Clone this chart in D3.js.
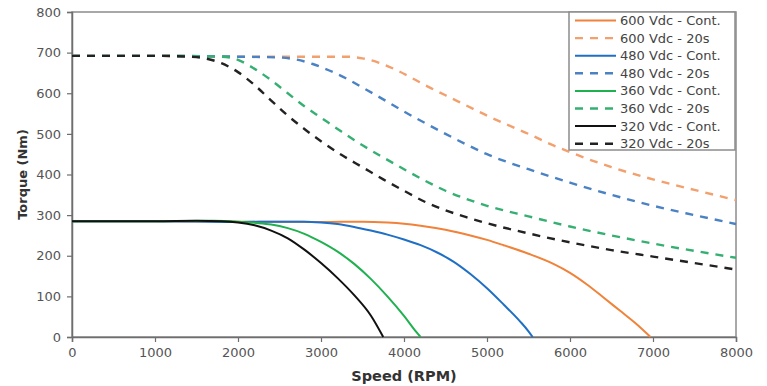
<!DOCTYPE html>
<html>
<head>
<meta charset="utf-8">
<script src="https://cdn.jsdelivr.net/npm/d3@7"></script>
<style>
  body { margin: 0; background: #fff; }
  svg { font-family: "DejaVu Sans", Verdana, sans-serif; }
</style>
</head>
<body>
<svg id="chart" width="767" height="386"></svg>
<script>
// Series values: [speed rpm, torque Nm]
const cont600 = [[0,285],[1000,285],[2000,284],[2500,284],[3000,283],[3500,284],[3800,282],[4000,279],[4200,274],[4500,264],[4800,250],[5000,239],[5200,226],[5500,205],[5800,180],[6000,158],[6200,130],[6400,98],[6600,65],[6800,32],[6970,0]];
const peak600 = [[0,692],[1000,692],[2000,690],[3000,690],[3300,690],[3500,686],[3700,675],[3900,658],[4100,637],[4300,615],[4500,595],[4750,570],[5000,545],[5250,522],[5500,500],[5750,476],[6000,455],[6500,418],[7000,388],[7500,362],[8000,337]];
const cont480 = [[0,285],[1000,285],[2000,283],[2500,284],[2800,284],[3000,282],[3200,278],[3400,271],[3600,262],[3800,252],[4000,240],[4200,226],[4400,208],[4600,185],[4800,155],[5000,120],[5200,80],[5400,38],[5500,14],[5550,0]];
const peak480 = [[0,692],[1000,692],[2000,690],[2500,688],[2700,683],[2900,672],[3100,656],[3300,637],[3500,614],[3750,585],[4000,555],[4250,527],[4500,500],[4750,474],[5000,450],[5500,413],[6000,380],[6500,350],[7000,323],[7500,300],[8000,278]];
const cont360 = [[0,285],[1000,285],[1700,286],[2000,284],[2200,281],[2400,277],[2600,268],[2800,254],[3000,234],[3200,210],[3400,180],[3600,143],[3800,100],[4000,52],[4150,12],[4200,0]];
const peak360 = [[0,692],[1000,692],[1800,690],[2000,682],[2200,660],[2400,632],[2600,600],[2800,568],[3000,540],[3250,505],[3500,472],[3750,442],[4000,413],[4250,385],[4500,360],[4750,340],[5000,323],[5500,297],[6000,272],[6500,250],[7000,230],[7500,212],[8000,195]];
const cont320 = [[0,285],[1000,285],[1500,286],[1800,285],[2000,282],[2200,275],[2400,262],[2600,243],[2800,215],[3000,182],[3200,145],[3400,103],[3600,53],[3750,0]];
const peak320 = [[0,692],[1000,692],[1400,690],[1600,686],[1800,674],[2000,652],[2200,620],[2400,582],[2600,545],[2800,512],[3000,482],[3250,448],[3500,418],[3750,388],[4000,360],[4250,333],[4500,312],[4750,295],[5000,280],[5500,255],[6000,233],[6500,214],[7000,198],[7500,182],[8000,166]];

const seriesNames = ["600 Vdc - Cont.", "600 Vdc - 20s", "480 Vdc - Cont.", "480 Vdc - 20s",
                     "360 Vdc - Cont.", "360 Vdc - 20s", "320 Vdc - Cont.", "320 Vdc - 20s"];
const seriesData = [cont600, peak600, cont480, peak480, cont360, peak360, cont320, peak320];
const seriesColors = ["#f0823a", "#f2a06e", "#1f6fc5", "#4a82c4", "#1fb04f", "#35b072", "#111111", "#222222"];
const seriesDashed = [false, true, false, true, false, true, false, true];

const xTicks = [0, 1000, 2000, 3000, 4000, 5000, 6000, 7000, 8000];
const yTicks = [0, 100, 200, 300, 400, 500, 600, 700, 800];

// Set up the margin for the chart
const margin = { top: 12, right: 31, bottom: 49, left: 72 };
const width = 767 - margin.left - margin.right;
const height = 386 - margin.top - margin.bottom;

const svg = d3.select("#chart");
const g = svg.append("g").attr("transform", `translate(${ margin.left }, ${ margin.top })`);

const x = d3.scaleLinear().domain([0, 8000]).range([0, width]);
const y = d3.scaleLinear().domain([0, 800]).range([height, 0]);

// Plot area frame (top and right)
g.append("rect")
  .attr("width", width)
  .attr("height", height)
  .attr("fill", "none")
  .attr("stroke", "#8c8c8c")
  .attr("stroke-width", 1.5);

// Axes
const xAxis = g.append("g")
  .attr("transform", `translate(0, ${ height })`)
  .call(d3.axisBottom(x).tickValues(xTicks).tickSize(5).tickPadding(6).tickFormat(d3.format("d")));
const yAxis = g.append("g")
  .call(d3.axisLeft(y).tickValues(yTicks).tickSize(5).tickPadding(6));

[xAxis, yAxis].forEach(a => {
  a.select(".domain").attr("stroke", "#6e6e6e").attr("stroke-width", 1.5);
  a.selectAll(".tick line").attr("stroke", "#6e6e6e").attr("stroke-width", 1.2);
  a.selectAll(".tick text")
    .attr("fill", "#555")
    .style("font-size", "13px")
    .style("font-family", "DejaVu Sans, sans-serif");
});

// Lines
const line = d3.line()
  .x(d => x(d[0]))
  .y(d => y(d[1]))
  .curve(d3.curveMonotoneX);

seriesData.forEach((data, i) => {
  g.append("path")
    .datum(data)
    .attr("fill", "none")
    .attr("stroke", seriesColors[i])
    .attr("stroke-width", seriesDashed[i] ? 2.4 : 2)
    .attr("stroke-dasharray", seriesDashed[i] ? "8,7" : null)
    .attr("d", line);
});

// Axis titles
svg.append("text")
  .attr("x", margin.left + width / 2)
  .attr("y", 381)
  .attr("text-anchor", "middle")
  .attr("fill", "#333")
  .style("font-size", "14.5px")
  .style("font-weight", "bold")
  .text("Speed (RPM)");

svg.append("text")
  .attr("transform", `translate(27, ${ margin.top + height / 2 }) rotate(-90)`)
  .attr("text-anchor", "middle")
  .attr("fill", "#333")
  .style("font-size", "13px")
  .style("font-weight", "bold")
  .text("Torque (Nm)");

// Legend
const legend = svg.append("g").attr("transform", "translate(569, 12)");
legend.append("rect")
  .attr("width", 166)
  .attr("height", 138)
  .attr("fill", "#fff")
  .attr("stroke", "#8c8c8c")
  .attr("stroke-width", 1.5);

const rows = legend.selectAll("g.row")
  .data(seriesNames)
  .join("g")
  .attr("class", "row")
  .attr("transform", (d, i) => `translate(0, ${ 8.5 + i * 17.6 })`);

rows.append("line")
  .attr("x1", 6)
  .attr("x2", 47)
  .attr("stroke", (d, i) => seriesColors[i])
  .attr("stroke-width", (d, i) => seriesDashed[i] ? 2.4 : 2)
  .attr("stroke-dasharray", (d, i) => seriesDashed[i] ? "8,7" : null);

rows.append("text")
  .attr("x", 51)
  .attr("dy", "0.35em")
  .attr("fill", "#444")
  .style("font-size", "13px")
  .text(d => d);
</script>
</body>
</html>
